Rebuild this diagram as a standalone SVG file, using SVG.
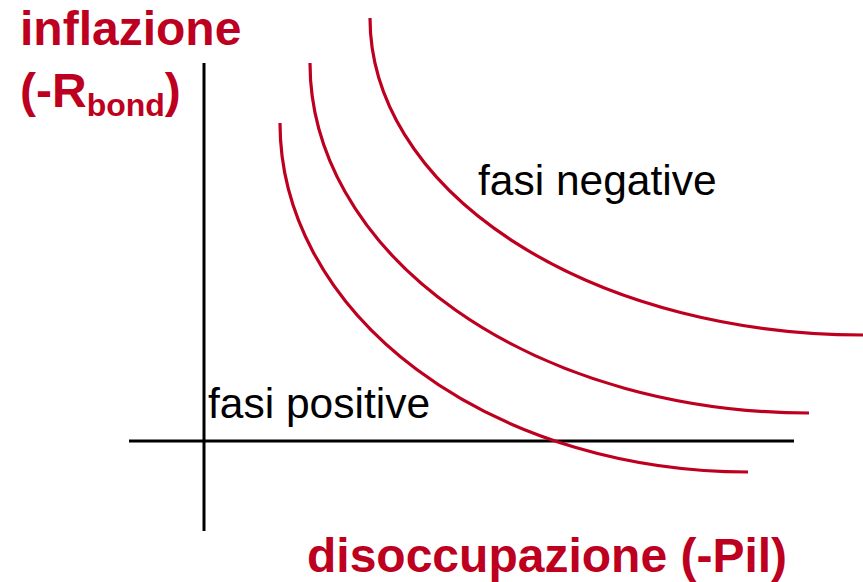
<svg xmlns="http://www.w3.org/2000/svg" width="863" height="582" viewBox="0 0 863 582">
<style>
.axis{stroke:#000;stroke-width:3;fill:none}
.curve{stroke:#BE0020;stroke-width:3.2;fill:none}
.lbl{font-family:"Liberation Sans",Arial,sans-serif;font-weight:bold;fill:#BE0020;font-size:48px}
.txt{font-family:"Liberation Sans",Arial,sans-serif;fill:#000;font-size:42.5px}
</style>
<rect width="863" height="582" fill="#fff"/>
<g id="axes">
<line class="axis" x1="204" y1="63" x2="204" y2="531"/>
<line class="axis" x1="129" y1="441" x2="794" y2="441"/>
</g>
<g id="curves">
<path class="curve" d="M370,18 A493,317 0 0 0 863,335"/>
<path class="curve" d="M310,63 A499,350 0 0 0 809,413"/>
<path class="curve" d="M280,123 A468,349 0 0 0 748,472"/>
</g>
<g id="labels">
<text class="lbl" x="20" y="45">inflazione</text>
<text class="lbl" x="20" y="107">(-R<tspan font-size="32px" dy="9">bond</tspan><tspan dy="-9">)</tspan></text>
<text class="lbl" x="307" y="572">disoccupazione (-Pil)</text>
<text class="txt" x="478" y="195">fasi negative</text>
<text class="txt" x="208" y="418">fasi positive</text>
</g>
</svg>
